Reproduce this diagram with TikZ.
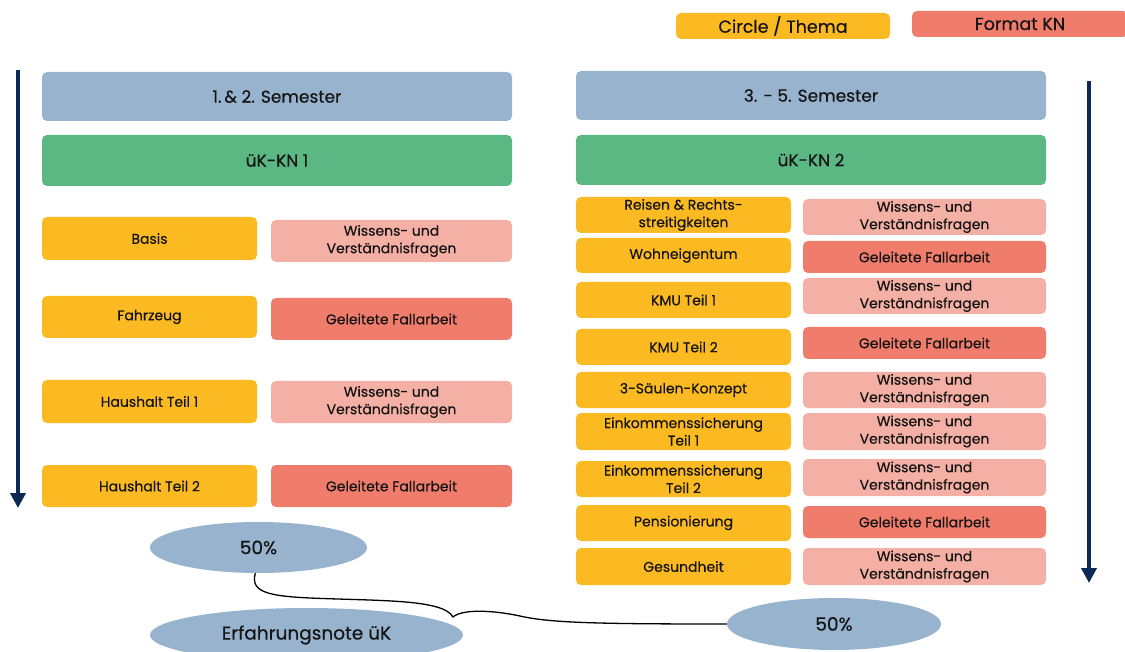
\documentclass[tikz,border=0pt]{standalone}
\usepackage{fontspec}
\setmainfont{Poppins}[FakeBold=0.35]
\usetikzlibrary{shapes.geometric,arrows.meta}
\definecolor{semblue}{HTML}{97B3CE}
\definecolor{kngreen}{HTML}{5BB883}
\definecolor{circyel}{HTML}{FBBA22}
\definecolor{wpink}{HTML}{F4B0A4}
\definecolor{gsalmon}{HTML}{F07D6B}
\definecolor{navy}{HTML}{0D2A57}
\definecolor{textc}{HTML}{141414}
\tikzset{
  box/.style={rounded corners=5pt, inner sep=0pt, align=center, text=textc,
    font=\fontsize{14}{17.5}\selectfont},
  sembox/.style={box, fill=semblue, minimum width=470pt, font=\fontsize{17}{19}\selectfont},
  knbox/.style={box, fill=kngreen, minimum width=470pt, font=\fontsize{17}{19}\selectfont},
  ybox/.style={box, fill=circyel, minimum width=215pt},
  wbox/.style={box, fill=wpink},
  gbox/.style={box, fill=gsalmon},
  oval/.style={ellipse, fill=semblue, inner sep=0pt, text=textc, font=\fontsize{18.5}{20}\selectfont},
  legend/.style={box, fill=#1, minimum height=26pt, font=\fontsize{17.5}{19}\selectfont},
  timearrow/.style={draw=navy, line width=4pt, -{Triangle[length=15pt,width=15pt]}}
}
\begin{document}
\begin{tikzpicture}[x=1pt,y=-1pt]
\useasboundingbox (0,0) rectangle (1125,652);
% legend
\node[legend=circyel, minimum width=214pt] (lgc) at (783,26) {Circle / Thema};
\node[legend=gsalmon, minimum width=216pt] (lgf) at (1020,24) {Format KN};
% arrows
\coordinate (a1s) at (18,70);
\coordinate (a1e) at (18,508);
\coordinate (a2s) at (1089,81);
\coordinate (a2e) at (1089,583);
\draw[timearrow] (a1s) -- (a1e);
\draw[timearrow] (a2s) -- (a2e);
% left column
\node[sembox, minimum height=49pt] (sem1) at (277,96.5) {1.\,\& 2. Semester};
\node[knbox, minimum height=51pt] (kn1) at (277,160.5) {üK-KN 1};
\node[ybox, minimum height=43pt] (basis) at (149.5,238.5) {Basis};
\node[wbox, minimum width=241pt, minimum height=42pt] (w1) at (391.5,241) {Wissens- und\\Verständnisfragen};
\node[ybox, minimum height=42pt] (fahr) at (149.5,317) {Fahrzeug};
\node[gbox, minimum width=241pt, minimum height=42pt] (g1) at (391.5,319) {Geleitete Fallarbeit};
\node[ybox, minimum height=43pt] (ht1) at (149.5,401.5) {Haushalt Teil 1};
\node[wbox, minimum width=241pt, minimum height=42pt] (w2) at (391.5,402) {Wissens- und\\Verständnisfragen};
\node[ybox, minimum height=42pt] (ht2) at (149.5,486) {Haushalt Teil 2};
\node[gbox, minimum width=241pt, minimum height=42pt] (g2) at (391.5,486) {Geleitete Fallarbeit};
% right column
\node[sembox, minimum height=49pt] (sem2) at (811,95.5) {3. - 5. Semester};
\node[knbox, minimum height=50pt] (kn2) at (811,160) {üK-KN 2};
\node[ybox, minimum height=36pt] (reisen) at (683.5,215) {Reisen \& Rechts-\\streitigkeiten};
\node[wbox, minimum width=243pt, minimum height=36pt] (w3) at (924.5,217) {Wissens- und\\Verständnisfragen};
\node[ybox, minimum height=35pt] (wohn) at (683.5,255.5) {Wohneigentum};
\node[gbox, minimum width=243pt, minimum height=32pt] (g3) at (924.5,257) {Geleitete Fallarbeit};
\node[ybox, minimum height=36pt] (kmu1) at (683.5,300) {KMU Teil 1};
\node[wbox, minimum width=243pt, minimum height=36pt] (w4) at (924.5,296) {Wissens- und\\Verständnisfragen};
\node[ybox, minimum height=36pt] (kmu2) at (683.5,347) {KMU Teil 2};
\node[gbox, minimum width=243pt, minimum height=32pt] (g4) at (924.5,343) {Geleitete Fallarbeit};
\node[ybox, minimum height=36pt] (saeulen) at (683.5,390) {3-Säulen-Konzept};
\node[wbox, minimum width=243pt, minimum height=36pt] (w5) at (924.5,390) {Wissens- und\\Verständnisfragen};
\node[ybox, minimum height=37pt] (eink1) at (683.5,431.5) {Einkommenssicherung\\Teil 1};
\node[wbox, minimum width=243pt, minimum height=37pt] (w6) at (924.5,431.5) {Wissens- und\\Verständnisfragen};
\node[ybox, minimum height=36pt] (eink2) at (683.5,479) {Einkommenssicherung\\Teil 2};
\node[wbox, minimum width=243pt, minimum height=37pt] (w7) at (924.5,477.5) {Wissens- und\\Verständnisfragen};
\node[ybox, minimum height=36pt] (pens) at (683.5,523) {Pensionierung};
\node[gbox, minimum width=243pt, minimum height=32pt] (g5) at (924.5,522) {Geleitete Fallarbeit};
\node[ybox, minimum height=37pt] (ges) at (683.5,566.5) {Gesundheit};
\node[wbox, minimum width=243pt, minimum height=37pt] (w8) at (924.5,566.5) {Wissens- und\\Verständnisfragen};
% ovals
\node[oval, minimum width=217pt, minimum height=51pt] (l50) at (258.5,547.5) {50\%};
\node[oval, minimum width=313pt, minimum height=54pt] (erf) at (306.5,635) {Erfahrungsnote üK};
\node[oval, minimum width=214pt, minimum height=52pt] (r50) at (834,624) {50\%};
% brace-like connector
\coordinate (cusp) at (453,617);
\draw[line width=1.3pt, black] (l50.263) .. controls (250,592) and (268,596) .. (310,598)
  .. controls (380,601) and (443,599) .. (cusp)
  .. controls (462,609) and (492,610) .. (520,616)
  .. controls (550,623) and (600,624) .. (r50.west);
\end{tikzpicture}
\end{document}
